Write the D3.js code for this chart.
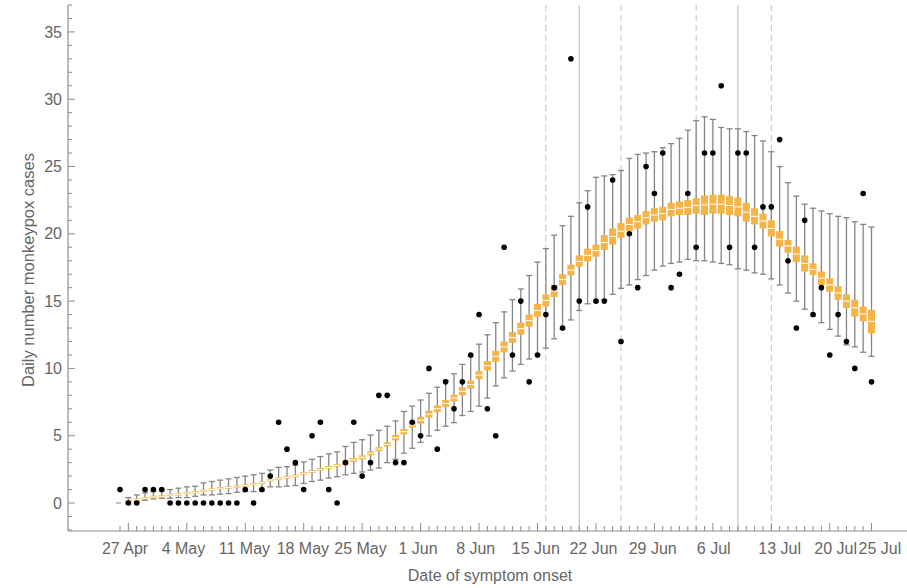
<!DOCTYPE html>
<html><head><meta charset="utf-8">
<script src="https://cdn.jsdelivr.net/npm/d3@7"></script>
<style>body{margin:0;background:#fff}svg{display:block}text{font-family:"Liberation Sans",Arial,sans-serif;fill:#666}</style>
</head><body>
<script>
// day index 0 = 26 Apr
const obs = [1,0,0,1,1,1,0,0,0,0, 0,0,0,0,0,1,0,1,2,6, 4,3,1,5,6,1,0,3,6,2, 3,8,8,3,3,6,5,10,4,9, 7,9,11,14,7,5,19,11,15,9, 11,14,16,13,33,15,22,15,15,24, 12,20,16,25,23,26,16,17,23,19, 26,26,31,19,26,26,19,22,22,27, 18,13,21,14,16,11,14,12,10,23, 9];
const med = [0,0.15,0.25,0.35,0.45,0.5,0.6,0.65,0.75,0.8, 0.9,1.0,1.1,1.15,1.2,1.3,1.4,1.5,1.7,1.8, 1.9,2.0,2.2,2.35,2.5,2.65,2.8,3.0,3.2,3.4, 3.7,4.0,4.35,4.85,5.3,5.8,6.15,6.6,7.0,7.4, 7.8,8.3,8.8,9.5,10.2,10.9,11.6,12.3,12.95,13.55, 14.3,15.05,15.75,16.6,17.3,17.95,18.4,18.75,19.35,19.8, 20.2,20.7,20.9,21.2,21.4,21.5,21.8,21.9,21.95,22.1, 22.15,22.2,22.2,22.1,22.0,21.6,21.3,20.95,20.4,19.6, 19.1,18.5,17.8,17.35,16.7,16.2,15.6,15.0,14.5,14.05,13.5];
const boxLo = [0,0.1,0.2,0.3,0.4,0.45,0.55,0.6,0.7,0.75, 0.85,0.95,1.05,1.1,1.15,1.25,1.35,1.45,1.6,1.7, 1.8,1.9,2.1,2.25,2.4,2.55,2.7,2.85,3.05,3.25, 3.55,3.85,4.2,4.65,5.1,5.6,5.9,6.35,6.75,7.15, 7.55,8.0,8.5,9.2,9.85,10.5,11.2,11.9,12.5,13.1, 13.85,14.6,15.3,16.2,16.9,17.55,17.95,18.3,18.8,19.2, 19.7,20.2,20.4,20.7,20.9,21.0,21.3,21.4,21.4,21.5, 21.4,21.5,21.5,21.4,21.3,20.9,20.7,20.4,19.8,19.05, 18.6,17.9,17.2,16.95,16.2,15.7,15.1,14.5,13.85,13.5,12.6];
const boxHi = [0,0.2,0.3,0.4,0.5,0.55,0.65,0.7,0.8,0.85, 0.95,1.05,1.15,1.2,1.25,1.35,1.45,1.55,1.8,1.9, 2.0,2.1,2.3,2.45,2.6,2.75,2.9,3.15,3.35,3.55, 3.85,4.15,4.5,5.05,5.5,6.0,6.4,6.85,7.25,7.65, 8.05,8.6,9.1,9.8,10.55,11.3,12.0,12.7,13.4,14.0, 14.8,15.5,16.2,17.0,17.7,18.4,18.9,19.2,19.9,20.4, 20.8,21.2,21.4,21.7,21.9,22.0,22.3,22.4,22.5,22.65, 22.85,22.9,22.9,22.8,22.7,22.3,21.9,21.5,21.0,20.2, 19.55,19.05,18.4,17.8,17.2,16.7,16.1,15.5,15.1,14.6,14.35];
const whiskLo = [0,0,0.1,0.2,0.3,0.35,0.35,0.4,0.4,0.5, 0.6,0.6,0.65,0.7,0.8,0.85,0.85,0.9,1.2,1.2, 1.25,1.3,1.45,1.6,1.7,1.85,1.95,2.1,2.2,2.3, 2.45,2.6,3.0,3.25,3.7,4.07,4.5,4.98,5.4,5.7, 5.97,6.5,6.8,7.2,7.8,8.7,9.3,9.8,10.3,10.7, 11.0,11.5,12.2,12.9,13.6,14.3,14.8,14.9,15.1,15.5, 15.95,16.2,16.6,16.9,17.3,17.6,17.8,17.9,18.1,18.0, 18.0,17.9,17.8,17.7,17.4,17.3,17.1,17.0,16.65,16.2, 15.6,15.0,14.4,13.9,13.4,12.9,12.4,11.75,11.6,11.2,10.9];
const whiskHi = [0,0.4,0.6,0.75,0.85,0.9,1.0,1.1,1.2,1.25, 1.5,1.6,1.7,1.8,1.9,2.0,2.1,2.2,2.45,2.65, 2.7,2.8,3.05,3.25,3.45,3.65,3.8,4.2,4.5,4.7, 5.05,5.4,5.7,6.1,6.8,7.2,7.65,8.15,8.6,9.1, 9.6,10.3,10.9,11.8,12.5,13.4,14.2,15.1,15.9,16.9, 17.9,18.9,19.9,20.6,21.3,22.3,23.2,24.2,24.3,24.4, 24.7,25.6,25.9,26.0,26.1,26.4,26.7,27.1,27.7,28.4, 28.7,28.5,27.9,27.8,27.8,27.6,27.3,26.9,26.1,25.0, 23.8,22.8,22.2,21.9,21.7,21.5,21.3,21.2,20.9,20.7,20.5];
const xTickDays = [1,8,15,22,29,36,43,50,57,64,71,78,85,90];
const xLabelDays = [0.6,7.6,14.9,21.9,28.8,35.7,42.6,49.8,56.7,63.8,71.1,79.0,85.7,91.0];
const xTickLabels = ["27 Apr","4 May","11 May","18 May","25 May","1 Jun","8 Jun","15 Jun","22 Jun","29 Jun","6 Jul","13 Jul","20 Jul","25 Jul"];
const yTicks = [0,5,10,15,20,25,30,35];
const dashedDays = [51,60,69,78];
const solidDays = [55,74];

(function () {
const W = 907, H = 588;
const svg = d3.select("body").append("svg").attr("width", W).attr("height", H);
const x = d3.scaleLinear().domain([0, 90]).range([120, 871.5]);
const y = d3.scaleLinear().domain([-2.08, 37.0]).range([531, 5]);
const pLeft = 68, pBottom = 531, pRight = 907, pTop = 5;
const days = d3.range(obs.length);

svg.append("g").selectAll("line").data(dashedDays).join("line")
  .attr("x1", d => x(d)).attr("x2", d => x(d)).attr("y1", pTop).attr("y2", pBottom)
  .attr("stroke", "#c2c2c2").attr("stroke-width", 1).attr("stroke-dasharray", "6,4");
svg.append("g").selectAll("line").data(solidDays).join("line")
  .attr("x1", d => x(d)).attr("x2", d => x(d)).attr("y1", pTop).attr("y2", pBottom)
  .attr("stroke", "#c4c4c4").attr("stroke-width", 1.2);

const wg = svg.append("g").attr("stroke", "#858585").attr("stroke-width", 1.3);
days.filter(d => whiskHi[d] > whiskLo[d]).forEach(d => {
  const cx = x(d);
  wg.append("line").attr("x1", cx).attr("x2", cx).attr("y1", y(whiskLo[d])).attr("y2", y(whiskHi[d]));
  wg.append("line").attr("x1", cx - 3).attr("x2", cx + 3).attr("y1", y(whiskLo[d])).attr("y2", y(whiskLo[d]));
  wg.append("line").attr("x1", cx - 3).attr("x2", cx + 3).attr("y1", y(whiskHi[d])).attr("y2", y(whiskHi[d]));
});

const bw = 7;
svg.append("g").selectAll("rect").data(days.filter(d => d > 0)).join("rect")
  .attr("x", d => x(d) - bw / 2).attr("width", bw)
  .attr("y", d => Math.min(y(boxHi[d]), y(med[d]) - 1.2))
  .attr("height", d => Math.max(y(boxLo[d]) - y(boxHi[d]), 2.4))
  .attr("fill", "#f5b445");
svg.append("g").selectAll("line").data(days.filter(d => d > 0)).join("line")
  .attr("x1", d => x(d) - bw / 2).attr("x2", d => x(d) + bw / 2)
  .attr("y1", d => y(med[d])).attr("y2", d => y(med[d]))
  .attr("stroke", "#fff").attr("stroke-width", 1);
svg.append("line").attr("x1", x(0) - 4).attr("x2", x(0) + 1).attr("y1", y(med[0])).attr("y2", y(med[0]))
  .attr("stroke", "#999").attr("stroke-width", 1.2);

svg.append("g").selectAll("circle").data(days).join("circle")
  .attr("cx", d => x(d)).attr("cy", d => y(obs[d])).attr("r", 2.8).attr("fill", "#000");

const axisColor = "#8c8c8c";
svg.append("line").attr("x1", pLeft).attr("x2", pLeft).attr("y1", pTop).attr("y2", pBottom).attr("stroke", axisColor).attr("stroke-width", 1.2);
svg.append("line").attr("x1", pLeft).attr("x2", pRight).attr("y1", pBottom).attr("y2", pBottom).attr("stroke", axisColor).attr("stroke-width", 1.2);
const yMinor = d3.range(-2, 38);
svg.append("g").selectAll("line").data(yMinor).join("line")
  .attr("x1", pLeft).attr("x2", d => pLeft + (d % 5 === 0 ? 7 : 4))
  .attr("y1", d => y(d)).attr("y2", d => y(d)).attr("stroke", axisColor).attr("stroke-width", 1);
svg.append("g").selectAll("text").data(yTicks).join("text")
  .attr("x", pLeft - 6).attr("y", d => y(d)).attr("dy", "0.35em").attr("text-anchor", "end")
  .attr("font-size", 16).text(d => d);
svg.append("g").selectAll("line").data(days).join("line")
  .attr("x1", d => x(d)).attr("x2", d => x(d))
  .attr("y1", pBottom).attr("y2", d => pBottom - (xTickDays.includes(d) ? 8 : 5))
  .attr("stroke", axisColor).attr("stroke-width", 1);
svg.append("g").selectAll("text").data(xLabelDays).join("text")
  .attr("x", d => x(d)).attr("y", 554).attr("text-anchor", "middle")
  .attr("font-size", 16).text((d, i) => xTickLabels[i]);
svg.append("text").attr("x", 490).attr("y", 581).attr("text-anchor", "middle").attr("font-size", 16).text("Date of symptom onset");
svg.append("text").attr("transform", "translate(34,270) rotate(-90)").attr("text-anchor", "middle").attr("font-size", 16.5).text("Daily number monkeypox cases");
})();
</script>
</body></html>
